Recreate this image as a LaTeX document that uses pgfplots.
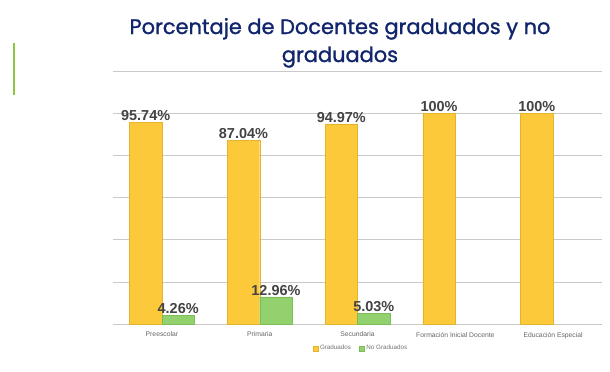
\documentclass[border=0pt]{standalone}
\usepackage{fontspec}
\setmainfont{Liberation Sans}
\newfontfamily\titlefont[FakeBold=1.2]{Poppins}
\usepackage{pgfplots}
\pgfplotsset{compat=1.18}
\definecolor{gOr}{HTML}{FCC93A}
\definecolor{gOrD}{HTML}{E6B42C}
\definecolor{gGr}{HTML}{93D16F}
\definecolor{gGrD}{HTML}{7DBE5A}
\definecolor{navy}{HTML}{10256B}
\definecolor{gridc}{HTML}{C9C9C9}
\definecolor{lbl}{HTML}{434343}
\definecolor{deco}{HTML}{8CC63F}
\begin{document}
\begin{tikzpicture}[x=1bp,y=1bp]
\path[use as bounding box, fill=white] (0,0) rectangle (610,-371);
\draw[deco, line width=1.2bp] (14,-43) -- (14,-95);
\draw[gridc, line width=1bp] (113,-71) -- (602,-71);
\node[anchor=base, inner sep=0, text=navy, font=\titlefont\fontsize{21}{24}\selectfont] at (340,-34) {Porcentaje de Docentes graduados y no};
\node[anchor=base, inner sep=0, text=navy, font=\titlefont\fontsize{21}{24}\selectfont] at (340,-62) {graduados};
\begin{axis}[
  at={(113bp,-324.3bp)}, anchor=south west,
  scale only axis, width=489bp, height=211bp,
  xmin=-0.5, xmax=4.5, ymin=0, ymax=100,
  ybar=0pt, bar width=32.5bp,
  clip=false,
  axis line style={draw=none},
  tick style={draw=none},
  ytick={0,20,...,100}, yticklabels={},
  ymajorgrids, major grid style={gridc, line width=1bp},
  xtick={0,1,2,3,4},
  xticklabels={Preescolar,Primaria,Secundaria,Formación Inicial Docente,Educación Especial},
  xticklabel style={font=\fontsize{6.8}{8}\selectfont, text=black!60},
  point meta=explicit symbolic,
  nodes near coords={\pgfplotspointmeta\%},
  nodes near coords style={font=\bfseries\fontsize{14.5}{16}\selectfont, text=lbl, inner sep=1.5bp},
  legend style={at={(0.507,-0.114)}, anchor=center, draw=none, fill=none,
    legend columns=2, font=\fontsize{6.3}{7}\selectfont, text=black!55,
    /tikz/every even column/.append style={column sep=6bp}},
  legend image code/.code={\fill[#1] (0bp,-2.5bp) rectangle (5bp,2.5bp);},
]
\addplot[fill=gOr, draw=gOrD, line width=0.4bp] coordinates {(0,95.74)[95.74] (1,87.04)[87.04] (2,94.97)[94.97] (3,100)[100] (4,100)[100]};
\addplot[fill=gGr, draw=gGrD, line width=0.4bp] coordinates {(0,4.26)[4.26] (1,12.96)[12.96] (2,5.03)[5.03]};
\legend{Graduados, No Graduados}
\end{axis}
\end{tikzpicture}
\end{document}
